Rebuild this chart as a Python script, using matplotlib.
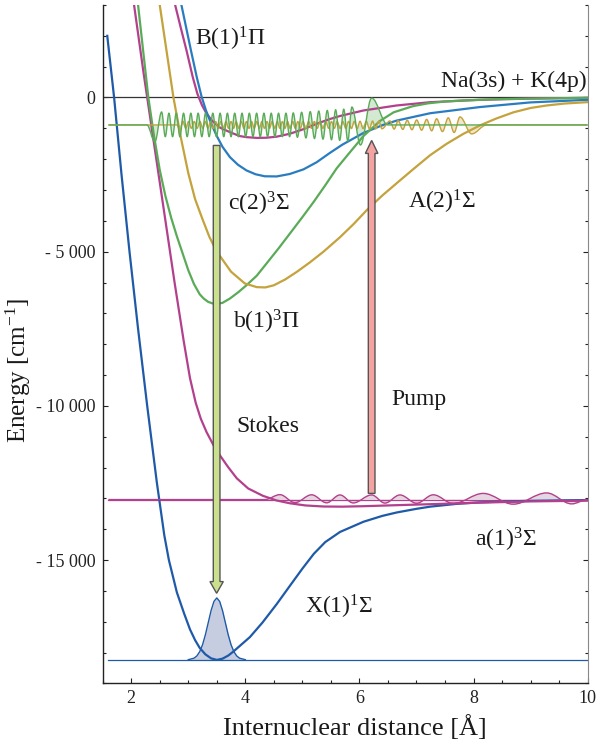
import matplotlib
matplotlib.use("Agg")
import matplotlib.pyplot as plt
from matplotlib.path import Path
from matplotlib.patches import PathPatch, FancyArrow
from matplotlib.ticker import MultipleLocator, FuncFormatter

plt.rcParams["font.family"] = ["Liberation Serif", "DejaVu Serif"]
plt.rcParams["mathtext.fontset"] = "custom"
plt.rcParams["mathtext.rm"] = "Liberation Serif"
plt.rcParams["mathtext.it"] = "Liberation Serif:italic"

# potential curves: r in Angstrom, energy in cm^-1
r_X = [1.58, 1.70, 1.83, 1.97, 2.12, 2.28, 2.45, 2.58, 2.66, 2.80, 2.93, 3.03, 3.12,
       3.20, 3.30, 3.40, 3.50, 3.60, 3.70, 3.79, 4.08, 4.30, 4.55, 4.78, 5.00, 5.20,
       5.40, 5.66, 6.07, 6.40, 6.65, 7.00, 7.24, 7.70, 8.11, 8.99, 10.0]
e_X = [2000, 0, -2500, -5000, -7500, -10000, -12500, -14200, -15000, -16050, -16750,
       -17250, -17600, -17850, -18060, -18190, -18240, -18200, -18100, -17970, -17500,
       -17030, -16430, -15840, -15280, -14800, -14420, -14090, -13760, -13570, -13460,
       -13340, -13270, -13180, -13130, -13080, -13055]

r_a = [2.05, 2.22, 2.40, 2.58, 2.76, 2.92, 3.03, 3.13, 3.22, 3.32, 3.44, 3.56, 3.70,
       3.85, 4.05, 4.31, 4.55, 4.78, 5.05, 5.37, 5.70, 6.07, 6.60, 7.24, 8.11, 9.00, 10.0]
e_a = [3000, 750, -1500, -3750, -6000, -7900, -9100, -9900, -10420, -10850, -11270,
       -11620, -11990, -12350, -12680, -12920, -13070, -13160, -13230, -13265, -13270,
       -13255, -13225, -13190, -13140, -13100, -13075]

r_c = [2.77, 2.87, 2.97, 3.08, 3.16, 3.24, 3.32, 3.42, 3.56, 3.73, 3.90, 4.02, 4.20,
       4.37, 4.55, 4.78, 5.00, 5.25, 5.48, 5.66, 6.07, 6.65, 7.24, 8.11, 9.00, 10.0]
e_c = [3000, 2250, 1520, 650, 120, -250, -520, -760, -980, -1124, -1250, -1286, -1310,
       -1305, -1270, -1176, -1040, -852, -700, -600, -421, -259, -152, -75, -35, -12]

r_B = [2.88, 3.05, 3.15, 3.23, 3.31, 3.40, 3.50, 3.60, 3.73, 3.87, 4.02, 4.18, 4.34,
       4.55, 4.78, 5.02, 5.25, 5.48, 5.70, 6.07, 6.40, 6.65, 7.24, 8.11, 8.99, 10.0]
e_B = [3000, 1500, 650, 50, -420, -840, -1250, -1600, -1934, -2180, -2365, -2490,
       -2555, -2560, -2480, -2330, -2100, -1800, -1530, -1150, -900, -750, -510, -310,
       -160, -75]

r_b = [2.12, 2.30, 2.40, 2.50, 2.60, 2.70, 2.80, 2.90, 3.00, 3.10, 3.20, 3.27, 3.35,
       3.47, 3.60, 3.73, 3.88, 4.02, 4.20, 4.37, 4.58, 4.78, 5.00, 5.20, 5.40, 5.60,
       5.80, 6.07, 6.36, 6.60, 6.94, 7.20, 7.50, 7.82, 8.50, 10.0]
e_b = [3000, 0, -1250, -2350, -3200, -3900, -4500, -5050, -5600, -6050, -6380, -6520,
       -6630, -6705, -6660, -6520, -6310, -6089, -5780, -5387, -4900, -4415, -3880,
       -3380, -2850, -2300, -1850, -1250, -760, -480, -280, -190, -130, -95, -50, -10]

r_A = [2.50, 2.62, 2.74, 2.87, 3.00, 3.12, 3.25, 3.37, 3.50, 3.75, 3.99, 4.20, 4.35,
       4.50, 4.70, 4.90, 5.13, 5.37, 5.66, 5.90, 6.13, 6.40, 6.71, 6.94, 7.24, 7.53,
       7.82, 8.11, 8.40, 8.70, 9.00, 9.28, 9.60, 10.0]
e_A = [3000, 1500, 0, -1300, -2450, -3300, -3950, -4520, -5000, -5650, -6030, -6150,
       -6160, -6090, -5900, -5658, -5350, -5000, -4530, -4100, -3650, -3180, -2690,
       -2330, -1870, -1500, -1180, -907, -680, -480, -340, -259, -195, -150]

# vibrational levels (cm^-1)
level_X = -18240
level_a = -13040
level_exc = -890
r_span = (1.6, 10.0)

# wavefunctions: extremum positions and magnitudes (sign alternates)
b_wave_r = [2.415, 2.533, 2.597, 2.661, 2.725, 2.789, 2.853, 2.917, 2.981, 3.045,
            3.109, 3.173, 3.238, 3.302, 3.366, 3.430, 3.494, 3.558, 3.622, 3.686,
            3.750, 3.814, 3.878, 3.942, 4.006, 4.070, 4.134, 4.198, 4.262, 4.326,
            4.390, 4.454, 4.518, 4.582, 4.647, 4.712, 4.776, 4.840, 4.913, 4.987,
            5.062, 5.138, 5.212, 5.287, 5.361, 5.436, 5.510, 5.583, 5.654, 5.725,
            5.796, 5.868, 6.018, 6.214]
b_wave_amp = [550, 420, 380, 380, 380, 380, 380, 380, 380, 380,
              380, 380, 380, 380, 380, 380, 380, 380, 380, 380,
              380, 380, 380, 380, 380, 380, 380, 380, 380, 380,
              380, 380, 380, 380, 380, 380, 380, 390, 400, 410,
              420, 430, 440, 450, 460, 470, 480, 490, 500, 510,
              520, 580, 650, 870]

A_wave_r = [2.857, 2.905, 2.955, 3.005, 3.055, 3.105, 3.155, 3.205, 3.255, 3.300,
            3.345, 3.390, 3.435, 3.480, 3.525, 3.570, 3.615, 3.660, 3.705, 3.750,
            3.795, 3.840, 3.885, 3.930, 3.975, 4.020, 4.065, 4.110, 4.155, 4.200,
            4.245, 4.290, 4.335, 4.380, 4.425, 4.470, 4.515, 4.560, 4.605, 4.650,
            4.695, 4.740, 4.785, 4.830, 4.875, 4.920, 4.965, 5.010, 5.060, 5.110,
            5.160, 5.210, 5.260, 5.310, 5.360, 5.410, 5.460, 5.510, 5.560, 5.610,
            5.660, 5.710, 5.760, 5.810, 5.860, 5.910, 5.960, 6.010, 6.065, 6.120,
            6.175, 6.230, 6.285, 6.340, 6.395,
            6.535, 6.608, 6.680, 6.759, 6.838, 6.920, 7.003, 7.090, 7.178, 7.266,
            7.353, 7.455, 7.557, 7.660, 7.762, 7.967]
A_wave_amp = [160, 120, 110, 110, 110, 110, 110, 110, 110, 110,
              110, 110, 110, 110, 110, 110, 110, 110, 110, 110,
              110, 110, 110, 110, 110, 110, 110, 110, 110, 110,
              110, 110, 110, 110, 110, 110, 110, 110, 110, 110,
              110, 110, 110, 110, 110, 110, 110, 110, 110, 110,
              110, 110, 110, 110, 110, 110, 110, 110, 110, 110,
              110, 110, 110, 115, 115, 115, 120, 120, 120, 120,
              125, 125, 125, 125, 125,
              130, 135, 140, 145, 150, 155, 160, 170, 180, 190,
              200, 215, 230, 245, 260, 290]

a_wave_r = [4.606, 4.869, 5.162, 5.425, 5.658, 5.891, 6.214, 6.447, 6.710, 7.003,
            7.294, 7.644, 8.170, 8.696, 9.281, 9.720]
a_wave_amp = [160, 100, 155, 105, 150, 110, 150, 115, 150, 120, 155, 130, 200, 150,
              215, 140]

# ground-state wavefunction on the X level
X_wave_r = [3.00, 3.10, 3.15, 3.20, 3.25, 3.30, 3.35, 3.40, 3.45, 3.50,
            3.55, 3.60, 3.65, 3.70, 3.75, 3.80, 3.85, 3.90, 4.00]
X_wave_h = [7, 55, 127, 265, 491, 816, 1209, 1603, 1898, 2010,
            1898, 1603, 1209, 816, 491, 265, 127, 55, 7]

labels = [
    ("B(1)$^{1}$\u03a0", 3.117, 1685, "left"),
    ("Na(3s) + K(4p)", 9.98, 356, "right"),
    ("c(2)$^{3}$\u03a3", 3.70, -3661, "left"),
    ("A(2)$^{1}$\u03a3", 6.855, -3606, "left"),
    ("b(1)$^{3}$\u03a0", 3.788, -7494, "left"),
    ("Stokes", 3.847, -10844, "left"),
    ("Pump", 6.565, -9979, "left"),
    ("a(1)$^{3}$\u03a3", 8.024, -14570, "left"),
    ("X(1)$^{1}$\u03a3", 5.045, -16730, "left"),
]

C_X = "#1f5aa8"
C_B = "#2a7cc0"
C_MAG = "#b3408c"
C_GRN = "#5aab58"
C_GLD = "#c4a23c"


def wave_path(r_ext, amp, base, sign, r_leave, r_return, r_lo, r_hi, closed=False):
    pts = [(r_leave, base)]
    s = sign
    for r, a in zip(r_ext, amp):
        pts.append((r, base + s * a))
        s = -s
    pts.append((r_return, base))
    verts = [(r_lo, base), (r_leave, base)]
    codes = [Path.MOVETO, Path.LINETO]
    for (x0, y0), (x1, y1) in zip(pts[:-1], pts[1:]):
        h = 0.36 * (x1 - x0)
        verts += [(x0 + h, y0), (x1 - h, y1), (x1, y1)]
        codes += [Path.CURVE4] * 3
    verts.append((r_hi, base))
    codes.append(Path.LINETO)
    if closed:
        verts.append((r_lo, base))
        codes.append(Path.CLOSEPOLY)
    return Path(verts, codes)


def draw_wave(ax, r_ext, amp, base, sign, r_leave, r_return, color, fill, z):
    fp = wave_path(r_ext, amp, base, sign, r_leave, r_return, r_leave, r_return, True)
    ax.add_patch(PathPatch(fp, facecolor=fill, edgecolor="none", zorder=1))
    lp = wave_path(r_ext, amp, base, sign, r_leave, r_return, r_span[0], r_span[1])
    ax.add_patch(PathPatch(lp, facecolor="none", edgecolor=color, lw=1.0, zorder=z))


fig = plt.figure(figsize=(5.96, 7.46), dpi=100)
ax = fig.add_axes([0.1723, 0.084, 0.8137, 0.9093])

# asymptote and vibrational levels
ax.plot([1.5, 10.0], [0, 0], color="#333333", lw=0.9, zorder=2)
ax.plot(r_span, [level_a, level_a], color=C_MAG, lw=0.9, zorder=2)
ax.plot(r_span, [level_X, level_X], color=C_X, lw=0.9, zorder=2)

# ground-state wavefunction
gx = X_wave_r
gy = [level_X + h for h in X_wave_h]
ax.fill_between(gx, level_X, gy, color="#c6cde0", lw=0, zorder=1)
ax.plot(gx, gy, color=C_X, lw=1.0, zorder=3)

# potentials
ax.plot(r_X, e_X, color=C_X, lw=1.6, zorder=2)
ax.plot(r_a, e_a, color=C_MAG, lw=1.6, zorder=2)
ax.plot(r_c, e_c, color=C_MAG, lw=1.6, zorder=2)
ax.plot(r_B, e_B, color=C_B, lw=1.6, zorder=2)
ax.plot(r_b, e_b, color=C_GRN, lw=1.6, zorder=2)
ax.plot(r_A, e_A, color=C_GLD, lw=1.6, zorder=2)

# excited and triplet wavefunctions
draw_wave(ax, a_wave_r, a_wave_amp, level_a, 1, 4.343, 10.0, C_MAG, "#e6d6e1", 3)
draw_wave(ax, A_wave_r, A_wave_amp, level_exc, -1, 2.80, 8.23, C_GLD, "#efe7cc", 3)
draw_wave(ax, b_wave_r, b_wave_amp, level_exc, -1, 2.275, 6.50, C_GRN, "#d3e9d2", 3)

# Stokes and pump arrows
ax.add_patch(FancyArrow(3.497, -1555, 0, -16080 + 1555, width=0.117, head_width=0.234,
                        head_length=380, length_includes_head=True,
                        facecolor="#cbe08f", edgecolor="#555555", lw=1.0, zorder=5))
ax.add_patch(FancyArrow(6.214, -12840, 0, -1393 + 12840, width=0.117, head_width=0.22,
                        head_length=420, length_includes_head=True,
                        facecolor="#f4a2a2", edgecolor="#555555", lw=1.0, zorder=5))

for text, x, y, ha in labels:
    ax.text(x, y, text, ha=ha, va="baseline", fontsize=17, color="#1a1a1a", zorder=6)

ax.set_xlim(1.5, 10.0)
ax.set_ylim(-19000, 3000)
ax.xaxis.set_major_locator(MultipleLocator(2))
ax.xaxis.set_minor_locator(MultipleLocator(0.5))
ax.yaxis.set_major_locator(MultipleLocator(5000))
ax.yaxis.set_minor_locator(MultipleLocator(1000))


def energy_fmt(v, pos):
    v = int(round(v))
    if v == 0:
        return "0"
    return ("- " if v < 0 else "") + f"{abs(v):,}".replace(",", " ")


ax.yaxis.set_major_formatter(FuncFormatter(energy_fmt))
ax.tick_params(which="both", direction="in", left=True, right=True, bottom=True,
               top=False, labelsize=13, colors="#222222", width=0.8, pad=5)
ax.tick_params(which="major", length=3.5)
ax.tick_params(which="minor", length=2.2)
ax.spines["top"].set_visible(False)
ax.spines["right"].set_color("#888888")
for side in ("left", "bottom"):
    ax.spines[side].set_color("#222222")
    ax.spines[side].set_linewidth(1.0)

ax.set_xlabel("Internuclear distance [\u00c5]", fontsize=19, color="#1a1a1a")
ax.set_ylabel("Energy [cm$^{-1}$]", fontsize=18, color="#1a1a1a")
ax.xaxis.set_label_coords(0.52, -0.047)
ax.yaxis.set_label_coords(-0.143, 0.462)

fig.savefig("out.png", dpi=100)
